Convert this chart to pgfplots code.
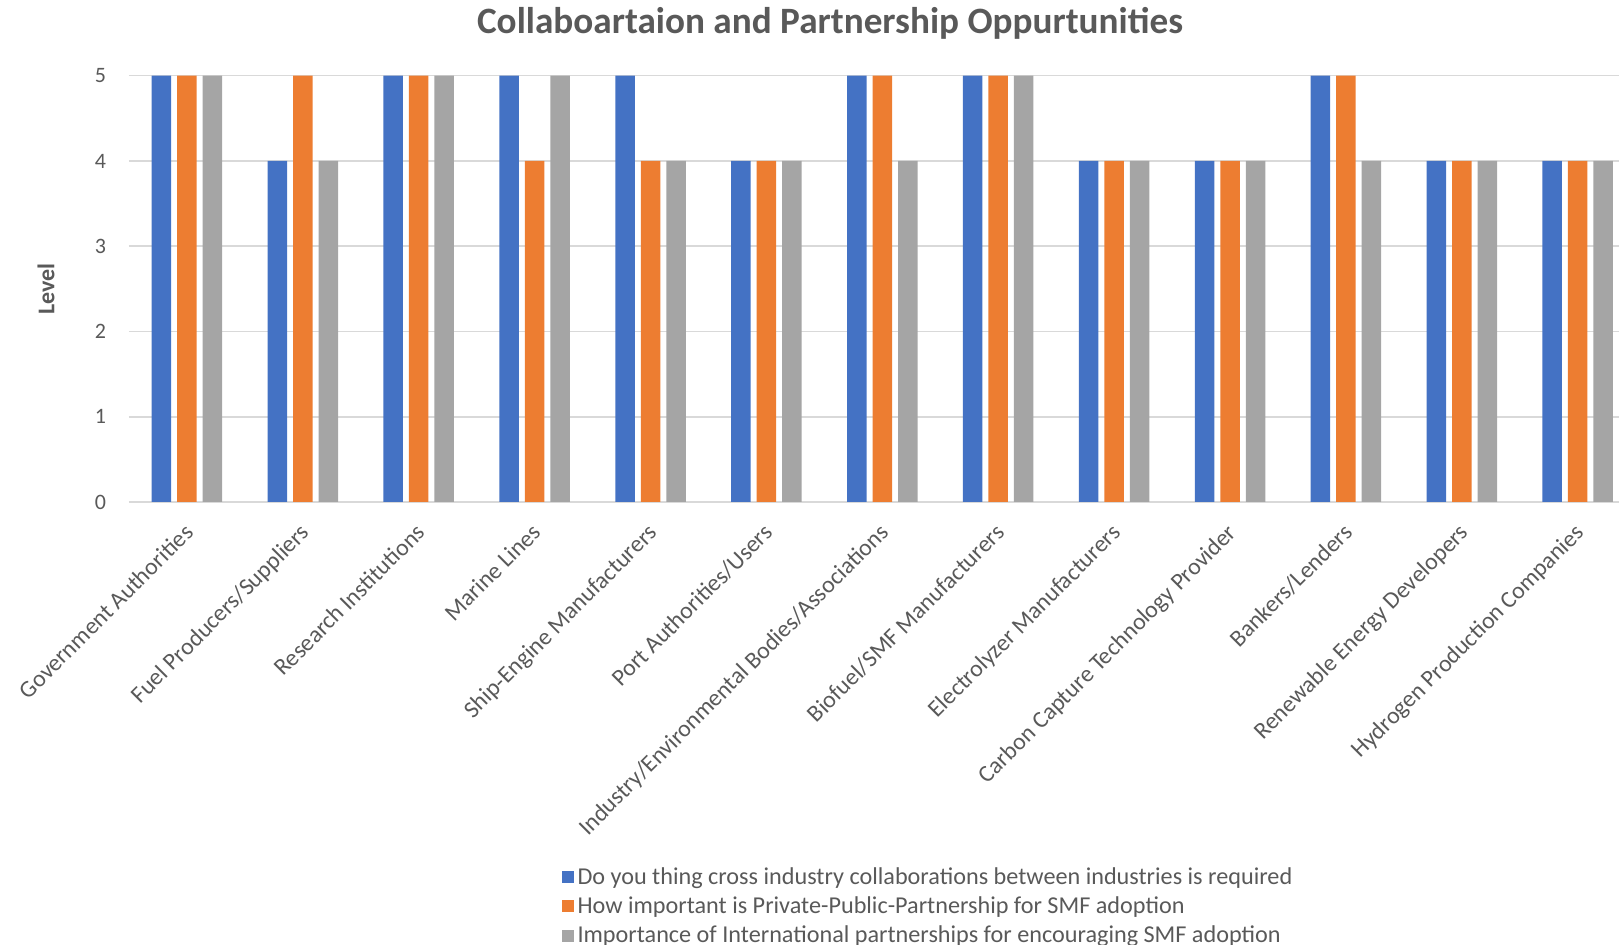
\documentclass[border=0pt]{standalone}
\usepackage{pgfplots}
\pgfplotsset{compat=1.18}
\usepackage{fontspec}
\setmainfont{Carlito}

\definecolor{sBlue}{HTML}{4472C4}
\definecolor{sOrange}{HTML}{ED7D31}
\definecolor{sGray}{HTML}{A5A5A5}
\definecolor{gridC}{HTML}{D9D9D9}
\definecolor{txt}{HTML}{595959}

\begin{document}
\begin{tikzpicture}
\begin{axis}[
  at={(64.5pt,221.5pt)}, anchor=south west,
  scale only axis,
  width=745pt, height=213.15pt,
  xmin=-0.5, xmax=12.356,
  ymin=0, ymax=5,
  ybar=3pt, bar width=9.75pt,
  axis line style={draw=none},
  ymajorgrids, grid style={gridC, line width=0.8pt},
  major tick length=0pt,
  ytick={0,1,2,3,4,5},
  xtick={0,...,12},
  xticklabels={Government Authorities, Fuel Producers/Suppliers, Research Institutions,
    Marine Lines, Ship-Engine Manufacturers, Port Authorities/Users,
    Industry/Environmental Bodies/Associations, Biofuel/SMF Manufacturers,
    Electrolyzer Manufacturers, Carbon Capture Technology Provider,
    Bankers/Lenders, Renewable Energy Developers, Hydrogen Production Companies},
  /pgf/number format/assume math mode=true,
  yticklabel style={font=\fontsize{11}{13}\selectfont, text=txt, xshift=-8pt},
  xticklabel style={font=\fontsize{11.9}{14}\selectfont, text=txt,
    xshift=-2pt, yshift=-10pt, rotate=45, anchor=north east, inner sep=0pt},
  ylabel={Level},
  every axis y label/.style={at={(axis description cs:-0.0557,0.5)}, rotate=90, anchor=center,
    font=\bfseries\fontsize{12}{14}\selectfont, text=txt},
  legend style={at={(axis description cs:0.286,-0.837)}, anchor=north west, draw=none, fill=none,
    font=\fontsize{12.1}{14}\selectfont, text=txt, row sep=0.7pt,
    /tikz/every even column/.append style={column sep=2pt}},
  legend cell align=left,
  legend image code/.code={\fill[#1] (0pt,-3pt) rectangle (6pt,3pt);},
]
\addplot[fill=sBlue, draw=none] coordinates {
  (0,5) (1,4) (2,5) (3,5) (4,5) (5,4) (6,5) (7,5) (8,4) (9,4) (10,5) (11,4) (12,4)};
\addplot[fill=sOrange, draw=none] coordinates {
  (0,5) (1,5) (2,5) (3,4) (4,4) (5,4) (6,5) (7,5) (8,4) (9,4) (10,5) (11,4) (12,4)};
\addplot[fill=sGray, draw=none] coordinates {
  (0,5) (1,4) (2,5) (3,5) (4,4) (5,4) (6,4) (7,5) (8,4) (9,4) (10,4) (11,4) (12,4)};
\legend{Do you thing cross industry collaborations between industries is required,
  How important is Private-Public-Partnership for SMF adoption,
  Importance of International partnerships for encouraging SMF adoption}
\end{axis}
\node[text=txt, font=\bfseries\fontsize{18.6}{21}\selectfont] at (415pt,461pt)
  {Collaboartaion and Partnership Oppurtunities};
\pgfresetboundingbox
\path (0,0) rectangle (809.5pt,472.5pt);
\end{tikzpicture}
\end{document}
